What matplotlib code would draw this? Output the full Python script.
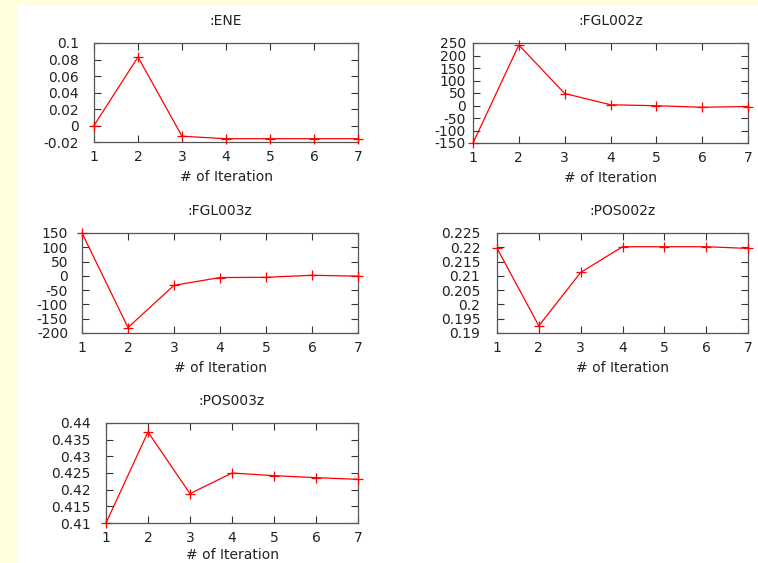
import matplotlib
matplotlib.use("Agg")
import matplotlib.pyplot as plt
from matplotlib.ticker import FuncFormatter

plt.rcParams['font.family'] = ['DejaVu Sans']
plt.rcParams['axes.unicode_minus'] = False

iterations = [1, 2, 3, 4, 5, 6, 7]

titles = [":ENE", ":FGL002z", ":FGL003z", ":POS002z", ":POS003z"]

ene = [0.0, 0.083, -0.013, -0.016, -0.016, -0.016, -0.016]
fgl002z = [-150, 242, 48, 3, -1, -7, -4]
fgl003z = [150, -181, -33, -6, -5, 2, -1]
pos002z = [0.2197, 0.1925, 0.2112, 0.2202, 0.2202, 0.2202, 0.2196]
pos003z = [0.410, 0.4373, 0.4188, 0.4250, 0.4242, 0.4236, 0.4231]

ene_ticks = [-0.02, 0, 0.02, 0.04, 0.06, 0.08, 0.1]
fgl002z_ticks = [-150, -100, -50, 0, 50, 100, 150, 200, 250]
fgl003z_ticks = [-200, -150, -100, -50, 0, 50, 100, 150]
pos002z_ticks = [0.19, 0.195, 0.2, 0.205, 0.21, 0.215, 0.22, 0.225]
pos003z_ticks = [0.41, 0.415, 0.42, 0.425, 0.43, 0.435, 0.44]

series = [ene, fgl002z, fgl003z, pos002z, pos003z]
yticks = [ene_ticks, fgl002z_ticks, fgl003z_ticks, pos002z_ticks, pos003z_ticks]

W, H = 758, 563
fig = plt.figure(figsize=(W / 100, H / 100), dpi=100)
fig.patch.set_facecolor('white')

cream = '#ffffe0'
fig.patches.append(plt.Rectangle((0, 0), 17 / W, 1, transform=fig.transFigure,
                                 facecolor=cream, edgecolor='none', zorder=0))
fig.patches.append(plt.Rectangle((0, 1 - 6 / H), 1, 6 / H, transform=fig.transFigure,
                                 facecolor=cream, edgecolor='none', zorder=0))

# (left, right, top, bottom) in pixels, ytick label pad, xlabel pad (points)
boxes = [
    (94, 358, 43, 142, 11, 4),
    (473, 748, 43, 143, 5, 4),
    (82, 358, 233, 333, 10, 4),
    (497, 748, 233, 333, 12, 4),
    (106, 358, 423, 523, 11, 2),
]

fmt = FuncFormatter(lambda v, p: '%g' % round(v, 6))
spine_col = '#555555'

for (l, r, t, b, ypad, xlp), ttl, ys, yt in zip(boxes, titles, series, yticks):
    ax = fig.add_axes([l / W, 1 - b / H, (r - l) / W, (b - t) / H])
    ax.plot(iterations, ys, color='#ff0000', lw=0.9, marker='+', ms=7, mew=0.9,
            clip_on=False, zorder=5)
    ax.set_xlim(1, 7)
    ax.set_ylim(yt[0], yt[-1])
    ax.set_xticks(iterations)
    ax.set_yticks(yt)
    ax.yaxis.set_major_formatter(fmt)
    ax.tick_params(direction='in', length=5, width=0.8, color='#333333',
                   top=True, right=True, labelsize=10, labelcolor='#222222')
    ax.tick_params(axis='y', pad=ypad)
    ax.tick_params(axis='x', pad=6)
    for s in ax.spines.values():
        s.set_color(spine_col)
        s.set_linewidth(0.9)
    ax.set_title(ttl, fontsize=10, pad=13, color='#222222')
    ax.set_xlabel('# of Iteration', fontsize=10, labelpad=xlp, color='#222222')

fig.savefig('out.png', dpi=100)
